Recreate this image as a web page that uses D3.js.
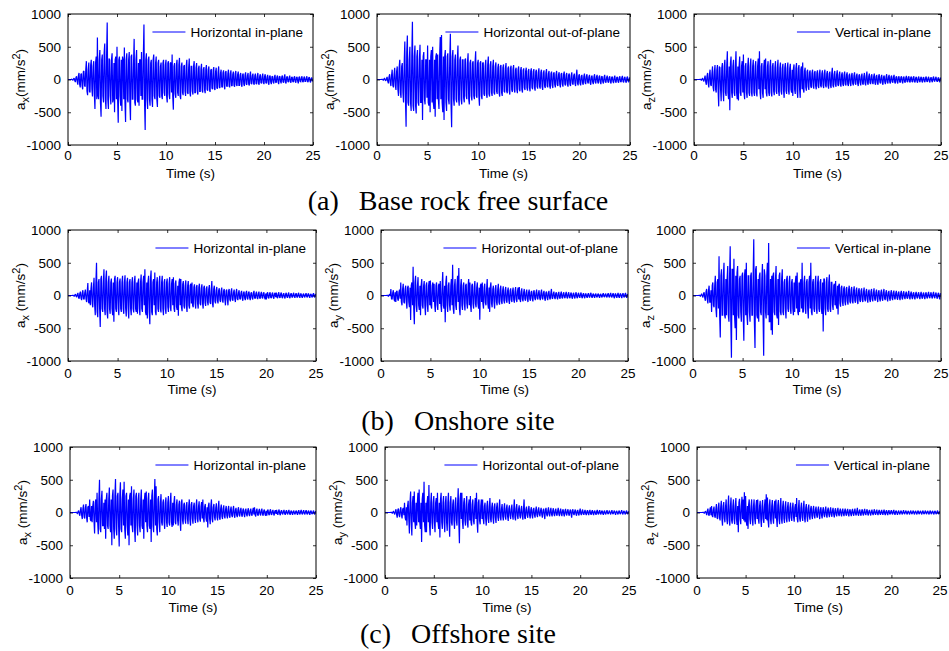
<!DOCTYPE html>
<html>
<head>
<meta charset="utf-8">
<script src="https://cdn.jsdelivr.net/npm/d3@7"></script>
<style>
html,body{margin:0;padding:0;background:#fff;}
svg{display:block;}
</style>
</head>
<body>
<svg id="chart" width="949" height="651"></svg>
<script>
// ---------------- data ----------------
const timeStep = 0.0625;          // s, sampling of the digitised records (16 per second)
const xTicks = [0, 5, 10, 15, 20, 25];
const yTicks = [-1000, -500, 0, 500, 1000];
const captionTags = ["(a)", "(b)", "(c)"];
const captionTexts = ["Base rock free surface", "Onshore site", "Offshore site"];
const legendLabels = ["Horizontal in-plane", "Horizontal out-of-plane", "Vertical in-plane"];
const componentSubs = ["x", "y", "z"];
const xLabel = "Time (s)";

// (a) base rock free surface, mm/s^2, one line per second
const baseX = [
0,0,0,0,0,0,5,-5,-10,10,20,-15,-40,30,50,-30,
-80,60,100,-70,-120,80,90,-100,-150,120,130,-90,-110,150,280,-180,
-240,150,260,-180,-200,220,300,-150,-260,200,280,-220,-450,250,350,-300,
640,-250,-300,300,450,-350,-570,300,380,-250,-350,400,550,-300,-450,350,
870,-300,-450,320,300,-250,-380,300,400,-350,-300,250,-500,300,350,-300,
500,-300,-660,300,350,-250,-400,300,-480,350,300,-300,490,-350,-650,300,
400,-300,-350,300,420,-350,-620,350,380,-300,-300,250,620,-350,-400,300,
450,-300,-350,250,-400,300,300,-250,420,-300,-300,350,840,-350,-770,300,
400,-300,-450,300,350,-300,-400,250,300,-300,-420,300,380,-250,-300,250,
350,-300,-420,250,300,-250,-280,200,260,-250,-300,250,300,-200,-250,220,
300,-250,-350,250,280,-220,-300,250,260,-200,380,-250,-460,200,250,-220,
-280,220,300,-200,-250,220,330,-250,-300,200,260,-200,-240,200,220,-180,
-250,200,300,-200,-220,180,320,-200,-260,200,200,-180,-230,200,280,-200,
-200,180,250,-180,-230,170,210,-180,-180,160,240,-170,-200,160,190,-160,
-210,160,220,-150,-170,150,200,-160,-190,140,160,-130,-150,140,190,-140,
-160,120,180,-130,-140,110,200,-120,-130,100,150,-110,-120,100,140,-100,
-150,110,130,-100,-110,90,150,-100,-120,90,140,-90,-100,80,120,-90,
-110,90,130,-80,-100,80,120,-90,-90,70,100,-80,-110,70,90,-70,
-100,70,110,-70,-80,60,100,-70,-90,60,120,-60,-70,60,90,-60,
-80,60,90,-60,-70,50,100,-60,-80,50,80,-50,-60,50,90,-50,
-70,50,80,-50,-60,40,70,-50,-80,50,60,-40,-70,40,50,-40,
-60,40,70,-40,-50,35,60,-40,-70,40,50,-30,-60,40,60,-35,
-50,35,80,-40,-60,35,50,-30,-40,30,60,-35,-50,30,40,-30,
-40,30,50,-30,-50,30,40,-25,-60,30,45,-30,-35,25,50,-30,
-40,25,45,-30,-30,20,50,-30,-40,25,35,-25,-45,20,30,-20,
-20];
const baseY = [
0,0,0,0,0,0,0,0,5,-5,-10,8,15,-10,-20,15,
40,-30,-60,40,80,-50,-100,60,150,-90,-120,80,180,-100,-160,120,
200,-150,-250,180,300,-200,-280,200,250,-200,-350,250,580,-300,-720,400,
670,-350,-400,300,500,-350,-480,350,880,-400,-480,350,520,-400,-520,350,
450,-350,-400,300,530,-350,-350,300,-620,350,420,-300,-380,300,300,-280,
520,-350,-400,300,-500,350,450,-350,500,-350,-450,300,-570,350,400,-300,
380,-300,-450,350,650,-300,680,-350,-500,350,-620,350,450,-350,-480,350,
400,-300,-380,300,700,-350,-730,350,450,-300,-400,300,380,-300,-350,300,
520,-300,-400,300,350,-300,-380,300,300,-280,-350,300,320,-250,-300,250,
400,-300,-380,250,300,-250,-320,250,280,-250,-300,250,430,-250,-280,250,
300,-250,-400,250,280,-250,-300,250,260,-220,-250,200,300,-220,-280,220,
350,-220,-260,220,280,-200,-250,200,300,-200,-230,200,260,-180,-220,180,
240,-200,-260,200,220,-200,-250,180,230,-180,-200,170,250,-180,-210,170,
200,-170,-230,170,210,-160,-190,160,220,-160,-200,150,180,-150,-210,150,
200,-150,-180,140,190,-150,-200,140,170,-130,-160,130,180,-130,-170,130,
160,-130,-180,130,170,-120,-150,120,160,-120,-170,120,150,-110,-140,110,
170,-110,-140,110,150,-110,-160,100,140,-100,-130,100,160,-100,-120,90,
130,-100,-140,90,120,-90,-130,90,110,-80,-120,80,130,-80,-100,80,
110,-80,-120,80,100,-70,-110,80,120,-70,-90,70,100,-70,-110,70,
90,-70,-100,60,110,-60,-80,60,90,-60,-100,60,150,-60,-90,60,
80,-60,-90,50,70,-50,-80,50,90,-50,-70,50,80,-40,-60,40,
70,-50,-80,40,60,-40,-70,40,80,-40,-60,40,70,-40,-60,40,
60,-40,-70,40,50,-35,-60,35,70,-35,-50,30,60,-30,-50,30,
50,-35,-60,30,45,-30,-55,30,60,-30,-50,30,40,-30,-50,30,
50,-30,-40,30,55,-30,-45,25,40,-25,-50,25,45,-25,-40,20,
30];
const baseZ = [
0,0,0,0,0,0,0,0,0,0,5,-5,-10,8,15,-10,
-30,20,60,-40,-80,50,100,-60,-120,80,150,-80,-100,90,200,-120,
-180,120,220,-150,-200,150,220,-150,-410,200,180,-150,-330,180,250,-180,
-330,200,300,-200,-250,200,430,-200,-300,200,-470,250,350,-200,-280,200,
300,-200,-250,200,430,-200,-300,200,-320,200,350,-200,-250,200,280,-200,
380,-200,-300,200,250,-200,-280,200,330,-200,-250,200,320,-200,-260,200,
300,-200,-250,200,280,-200,-260,200,320,-150,430,-200,-300,200,250,-200,
-280,200,300,-150,320,-200,-260,200,280,-200,-250,200,300,-200,-260,200,
250,-180,-240,180,280,-180,-220,180,300,-180,-250,180,260,-180,-230,170,
240,-170,-280,180,250,-170,-220,170,260,-170,-230,170,240,-150,-200,150,
-250,170,230,-160,-220,170,250,-170,-280,170,220,-150,-280,150,200,-150,
260,-150,-200,130,180,-120,-170,120,150,-110,-160,110,140,-100,-130,100,
150,-100,-140,100,130,-100,-150,100,140,-100,-130,90,150,-90,-120,90,
140,-90,-130,90,150,-90,-120,90,130,-90,-140,90,120,-90,-130,90,
180,-90,-120,80,130,-80,-110,80,140,-80,-100,70,120,-70,-110,70,
110,-70,-100,70,120,-70,-90,70,110,-70,-100,60,90,-60,-100,60,
100,-60,-90,60,110,-60,-80,60,90,-60,-100,60,80,-50,-90,50,
90,-60,-80,50,100,-60,-90,50,120,-50,-80,50,90,-50,-70,50,
80,-50,-70,50,90,-50,-80,50,70,-50,-80,50,80,-40,-60,40,
70,-50,-80,40,60,-40,-70,40,80,-40,-60,40,70,-40,-60,40,
60,-35,-50,35,70,-40,-60,35,50,-35,-60,35,50,-30,-50,30,
50,-30,-60,30,45,-30,-50,30,55,-30,-40,30,50,-30,-45,30,
45,-30,-40,30,50,-30,-45,25,40,-25,-50,25,45,-25,-40,25,
40,-25,-45,25,35,-25,-40,25,45,-25,-35,20,40,-25,-45,20,
35,-20,-40,25,45,-20,-30,20,40,-20,-35,20,30,-20,-40,20,
20];

// (b) onshore site
const onX = [
0,0,0,0,0,0,0,0,5,-5,-10,8,20,-10,-25,15,
40,-30,-50,30,60,-40,-70,40,80,-50,-60,40,90,-50,-100,60,
190,-100,-120,80,-150,100,200,-120,-180,120,270,-150,-300,200,500,-250,
-330,200,250,-200,-480,250,300,-200,-250,200,400,-200,-300,250,380,-250,
-350,200,300,-200,-280,200,260,-200,-300,200,-400,250,300,-200,-250,200,
280,-200,-300,200,260,-200,-250,200,300,-200,-280,200,310,-200,-320,200,
270,-200,-350,200,250,-200,-300,200,280,-200,-260,200,300,-200,-250,200,
-280,200,260,-200,-300,200,320,-200,-250,200,300,-150,400,-250,-300,200,
-350,200,300,-250,-440,250,380,-250,-300,200,250,-150,350,-250,-300,200,
280,-200,-250,200,300,-200,-260,200,300,-200,-300,200,250,-200,-280,200,
260,-180,-250,180,280,-180,-240,180,250,-150,280,-200,-250,180,230,-170,
-220,150,-310,200,260,-150,250,-180,-240,170,220,-160,-200,150,230,-160,
-250,150,220,-150,-200,150,180,-120,200,-150,-180,130,170,-120,-200,130,
160,-120,-200,130,180,-120,-150,110,170,-120,-200,120,150,-110,-160,100,
140,-100,-150,100,160,-100,-130,90,220,-120,-180,100,150,-90,-120,80,
130,-80,-120,80,110,-70,-100,70,120,-70,-110,70,100,-60,-150,70,
90,-60,-150,70,100,-60,-90,60,110,-60,-80,50,90,-50,-100,50,
100,-50,-70,45,80,-45,-60,40,70,-40,-80,40,60,-40,-70,40,
70,-40,-60,40,60,-35,-70,35,50,-35,-60,35,70,-35,-50,30,
60,-35,-55,30,60,-35,-50,30,55,-30,-45,30,50,-30,-60,30,
-60,30,50,-30,-45,30,50,-30,-40,25,45,-25,-50,25,40,-25,
45,-25,-40,25,50,-25,-35,25,45,-25,-40,20,35,-20,-45,20,
40,-20,-35,20,45,-25,-40,20,35,-20,-30,20,40,-20,-35,20,
35,-20,-30,20,40,-20,-35,20,30,-20,-35,15,30,-15,-30,15,
35,-15,-30,20,30,-15,-35,15,25,-15,-30,15,35,-15,-30,15,
20];
const onY = [
0,0,0,0,0,0,0,0,0,0,5,-5,-10,8,15,-10,
100,-50,-60,40,80,-50,-90,50,-100,60,70,-50,-80,50,90,-50,
200,-100,-150,100,180,-100,-120,100,150,-100,-200,120,150,-100,-180,120,
-375,150,200,-150,440,-200,-440,200,300,-150,-250,150,280,-150,-220,150,
-300,150,250,-150,-200,150,220,-150,-300,150,200,-150,-250,150,220,-150,
230,-150,-200,150,200,-100,180,-150,-250,150,200,-150,-220,150,180,-130,
220,-150,-250,150,360,-150,-200,150,-410,200,300,-150,-250,150,200,-150,
-230,150,250,-150,470,-200,-280,150,250,-150,-220,150,300,-100,420,-200,
-300,150,250,-150,-220,150,200,-130,-230,150,180,-120,-200,150,250,-150,
200,-150,-250,150,180,-130,-200,130,220,-130,-180,120,200,-120,-200,120,
-370,150,180,-100,200,-120,-200,120,180,-110,-150,100,250,-120,-200,120,
-250,130,200,-120,-180,100,150,-100,-200,100,160,-100,-150,90,180,-100,
-140,90,150,-90,-130,80,140,-80,-120,80,130,-80,-110,70,120,-70,
-130,70,110,-70,-100,70,120,-70,-110,60,130,-60,-100,60,120,-60,
130,-60,-100,60,110,-60,-90,50,100,-50,-80,50,90,-50,-100,50,
90,-50,-80,50,70,-50,-90,50,80,-40,-70,40,90,-40,-60,40,
80,-40,-70,40,90,-40,-60,40,70,-40,-80,40,60,-35,-70,35,
70,-35,-60,35,100,-40,-50,30,60,-30,-55,30,50,-30,-60,30,
55,-30,-50,30,60,-30,-45,25,50,-25,-40,25,55,-25,-45,25,
50,-25,-40,25,45,-25,-50,25,40,-20,-45,20,50,-20,-40,20,
40,-20,-35,20,45,-20,-40,20,35,-20,-40,20,30,-20,-35,20,
35,-20,-30,20,40,-20,-35,15,30,-15,-35,15,30,-15,-30,15,
30,-15,-35,15,25,-15,-30,15,35,-15,-25,15,30,-15,-30,15,
35,-15,-30,15,40,-15,-30,15,35,-20,-40,20,30,-15,-35,15,
40,-20,-35,20,30,-15,-40,20,35,-15,-30,15,40,-15,-35,15,
20];
const onZ = [
0,0,0,0,0,0,0,0,0,0,5,-5,-10,10,20,-10,
-30,30,50,-40,-80,60,100,-60,-120,80,150,-100,-100,80,-250,150,
200,-150,-180,150,300,-200,-330,200,250,-200,600,-300,-640,300,400,-300,
-300,300,500,-300,-350,250,-300,250,450,-300,-400,300,750,-400,-950,400,
400,-300,560,-300,-500,300,-680,350,450,-300,-350,250,300,-250,-400,300,
350,-300,-690,300,400,-300,500,-300,-450,300,300,-250,-400,300,350,-300,
-300,300,860,-400,-800,400,450,-300,-350,250,-400,300,350,-250,-300,250,
480,-300,-920,400,300,-250,-350,300,500,-300,800,-400,-400,250,-530,300,
-600,300,350,-250,-300,250,450,-300,-350,250,-450,300,350,-250,-300,250,
400,-250,-300,200,250,-200,-350,250,300,-200,-250,200,300,-200,-280,200,
250,-200,-300,200,-250,200,300,-200,350,-250,-300,200,-250,200,250,-200,
500,-250,-250,200,300,-200,-280,200,250,-200,-350,200,300,-200,500,-250,
-300,200,250,-200,-250,200,300,-200,-280,200,300,-200,-250,200,250,-200,
-280,200,-550,250,250,-200,-300,200,280,-200,-250,200,320,-200,-250,200,
200,-150,-220,150,180,-150,220,-150,-200,150,-290,150,180,-120,-170,120,
150,-100,-160,100,140,-100,-150,100,130,-90,-140,90,150,-90,-120,90,
130,-90,-120,80,140,-80,-110,80,120,-80,-130,80,110,-70,-100,70,
110,-70,-100,60,120,-60,-90,60,100,-60,-110,60,90,-60,-100,60,
100,-60,-90,50,110,-50,-80,50,90,-50,-100,50,80,-50,-90,50,
90,-50,-80,50,100,-45,-70,45,80,-45,-90,45,70,-40,-80,40,
80,-40,-70,40,75,-40,-60,35,70,-35,-65,35,60,-35,-70,35,
70,-35,-60,35,65,-30,-55,30,60,-30,-50,30,70,-30,-60,30,
60,-30,-55,30,50,-30,-60,30,55,-25,-45,25,50,-25,-55,25,
55,-25,-50,25,45,-25,-55,25,50,-25,-45,25,55,-20,-40,20,
50,-20,-45,25,55,-20,-40,20,45,-20,-50,20,40,-25,-60,25,
30];

// (c) offshore site
const offX = [
0,0,0,0,0,0,0,0,0,0,5,-5,-15,10,30,-20,
-50,40,80,-50,-100,60,120,-70,-90,70,130,-80,-150,80,100,-70,
200,-100,-130,100,-150,100,180,-120,-320,150,200,-150,300,-150,-330,200,
500,-250,-300,200,330,-200,-200,150,-250,200,-400,200,300,-200,-250,200,
380,-200,-300,200,-500,250,350,-250,-400,250,510,-250,-350,250,300,-200,
-520,250,460,-250,-300,200,350,-200,470,-250,-400,250,300,-200,-350,200,
-500,250,300,-200,400,-200,-300,200,350,-250,-450,250,300,-200,-350,200,
300,-200,-300,200,350,-200,-250,200,-400,200,300,-150,320,-200,-300,200,
300,-200,-250,200,-450,250,350,-200,-300,200,510,-200,400,-250,-350,200,
250,-150,-300,150,280,-150,-200,150,200,-150,-250,150,230,-150,-220,150,
250,-150,-200,150,300,-150,-220,150,-200,150,250,-150,-180,120,200,-120,
-200,120,180,-120,-280,150,200,-120,-180,120,150,-100,-170,100,160,-100,
-180,100,200,-110,-200,120,160,-100,-170,100,150,-90,-160,100,200,-100,
-150,90,170,-100,-140,90,160,-90,200,-100,-150,90,130,-80,-140,80,
-230,100,150,-90,-180,100,200,-100,-150,80,130,-70,-120,70,140,-70,
-120,70,180,-80,-110,60,120,-60,-100,60,110,-60,-90,50,100,-50,
-90,50,100,-50,-80,45,90,-45,-70,40,100,-40,-80,40,70,-40,
-70,40,80,-40,-60,35,70,-35,-65,35,60,-30,-70,30,60,-30,
-60,30,65,-30,-55,30,60,-30,-50,30,70,-30,80,-35,-60,30,
60,-30,-50,25,55,-25,-45,25,60,-25,-50,25,45,-25,-50,25,
-50,25,45,-25,-40,20,50,-25,-35,20,40,-20,-45,20,35,-20,
40,-20,-35,20,45,-20,-40,20,35,-15,-30,15,40,-15,-35,15,
35,-15,-30,15,40,-15,-35,15,30,-15,-35,15,30,-15,-30,15,
30,-15,-35,15,35,-15,-30,15,40,-15,-30,15,35,-15,-30,15,
35,-15,-30,15,30,-15,-35,15,30,-15,-25,10,30,-15,-30,10,
20];
const offY = [
0,0,0,0,0,0,0,0,0,0,5,-5,-10,8,15,-10,
-30,20,50,-30,-80,40,60,-40,-70,40,80,-40,-90,50,70,-40,
150,-80,-120,80,-200,100,180,-100,-320,150,320,-150,-350,150,250,-150,
320,-150,-250,150,-200,150,300,-150,350,-150,-250,150,-450,200,300,-150,
470,-200,-300,150,-300,150,250,-150,420,-200,-350,150,300,-150,-250,150,
250,-150,-300,150,220,-150,300,-150,-250,150,-380,200,300,-150,-250,150,
250,-150,-300,150,250,-150,-280,150,300,-150,-370,150,250,-150,-200,120,
200,-120,-250,150,230,-120,-200,120,370,-150,-470,200,300,-100,300,-150,
-250,150,220,-120,-200,120,250,-150,-230,120,200,-120,250,-150,-200,120,
200,-120,-180,100,220,-100,300,-150,-310,150,200,-120,-180,100,200,-100,
200,-100,-180,100,150,-90,-200,100,180,-90,-160,90,220,-100,-150,80,
150,-80,-170,80,140,-80,-160,80,150,-70,-130,70,200,-80,-120,60,
130,-60,-120,60,140,-60,-110,60,120,-60,-130,60,110,-50,-100,50,
120,-50,-110,50,200,-80,-120,60,130,-50,-100,50,110,-50,-90,45,
100,-50,-110,50,200,-80,-100,50,90,-40,-80,40,100,-40,-90,40,
80,-40,-90,40,70,-35,-80,35,90,-35,-70,35,80,-30,-60,30,
70,-30,-80,30,60,-30,-100,40,70,-30,-60,30,80,-30,-60,30,
70,-30,-60,30,65,-25,-55,25,60,-25,-50,25,70,-25,-55,25,
60,-25,-55,25,50,-25,-60,25,55,-20,-45,20,50,-20,-50,20,
45,-20,-80,30,50,-20,-40,20,45,-20,-50,20,40,-20,-45,20,
60,-20,-40,20,45,-20,-35,15,40,-15,-40,15,35,-15,-40,15,
40,-15,-35,15,35,-15,-40,15,30,-15,-35,15,40,-15,-30,15,
35,-15,-30,15,30,-15,-35,15,30,-15,-30,10,35,-10,-25,10,
30,-10,-30,10,35,-10,-25,10,30,-10,-35,10,25,-10,-30,10,
30,-10,-25,10,35,-10,-30,10,25,-10,-30,10,30,-10,-25,10,
15];
const offZ = [
0,0,0,0,0,0,0,0,0,0,5,-5,-10,8,20,-10,
-40,30,60,-30,-50,30,80,-40,100,-50,-70,40,90,-50,-80,50,
130,-80,-100,70,150,-80,-120,80,180,-90,-200,100,160,-90,-150,90,
200,-100,-180,100,260,-120,-200,100,230,-120,-170,100,200,-100,-180,100,
220,-100,-190,100,-300,150,210,-100,-180,100,240,-100,200,-120,310,-150,
250,-120,-200,100,-250,120,200,-100,-180,100,200,-100,-200,100,200,-100,
-180,100,190,-100,200,-100,-170,100,180,-100,-220,100,190,-100,-160,90,
200,-100,280,-120,230,-120,-230,110,200,-100,-180,100,190,-90,-170,90,
180,-90,200,-100,-220,110,190,-100,-180,90,220,-100,-170,90,180,-90,
-160,90,170,-90,-150,80,160,-80,-140,80,150,-80,-130,70,150,-70,
-140,70,130,-70,220,-100,-150,70,190,-90,-140,70,150,-70,-130,70,
180,-80,-150,70,130,-60,-140,60,120,-60,-110,55,100,-50,-100,50,
100,-50,-90,45,90,-45,-80,40,90,-40,-100,40,80,-40,-90,40,
80,-35,-70,35,90,-35,-80,35,75,-30,-70,30,80,-30,-65,30,
70,-30,-75,30,65,-30,-60,30,70,-25,-55,25,60,-25,-60,25,
60,-25,-55,25,60,-25,-50,25,55,-25,-60,25,50,-20,-55,20,
55,-20,-50,20,60,-20,-45,20,70,-25,-50,20,45,-20,-50,20,
50,-20,-45,20,55,-20,-40,20,50,-20,-45,20,40,-15,-45,15,
45,-15,-40,15,50,-15,-35,15,45,-15,-40,15,40,-15,-35,15,
40,-15,-35,15,45,-15,-40,15,35,-15,-40,15,35,-15,-30,15,
35,-15,-30,15,40,-15,-35,15,30,-10,-35,10,30,-10,-30,10,
30,-10,-30,10,35,-10,-25,10,30,-10,-30,10,25,-10,-30,10,
30,-10,-25,10,30,-10,-30,10,25,-10,-30,10,30,-10,-25,10,
25,-10,-30,10,30,-10,-25,10,30,-10,-25,10,25,-10,-30,10,
30,-10,-25,10,25,-10,-30,10,25,-10,-25,10,30,-10,-25,10,
15];

const seriesGrid = [[baseX, baseY, baseZ], [onX, onY, onZ], [offX, offY, offZ]];

// ---------------- layout ----------------
const rowsLayout = [
  {top: 14, bottom: 145, cols: [[68, 313], [377, 630], [694, 941]], tickBase: 15, labBase: 33, capY: 210, ySpace: ""},
  {top: 230, bottom: 361, cols: [[68, 316], [381, 628], [693, 941]], tickBase: 17, labBase: 33, capY: 430, ySpace: " "},
  {top: 447, bottom: 578, cols: [[70, 316], [385, 629], [697, 940]], tickBase: 17, labBase: 34, capY: 643, ySpace: " "}
];
const sansFont = "'Liberation Sans', Arial, Helvetica, sans-serif";
const serifFont = "'Liberation Serif', 'Times New Roman', Times, serif";
const fs = 13.5;

const svg = d3.select("#chart");
svg.append("rect").attr("width", 949).attr("height", 651).attr("fill", "#fff");

rowsLayout.forEach((row, r) => {
  row.cols.forEach((c, k) => {
    const [left, right] = c;
    const data = seriesGrid[r][k];
    const x = d3.scaleLinear().domain([0, 25]).range([left, right]);
    const y = d3.scaleLinear().domain([-1000, 1000]).range([row.bottom, row.top]);
    const g = svg.append("g");

    // signal
    const clipId = `clip-${r}-${k}`;
    g.append("clipPath").attr("id", clipId).append("rect")
      .attr("x", left).attr("y", row.top).attr("width", right - left).attr("height", row.bottom - row.top);
    const line = d3.line().x((d, i) => x(i * timeStep)).y(d => y(d));
    g.append("path").datum(data)
      .attr("clip-path", `url(#${clipId})`)
      .attr("fill", "none").attr("stroke", "#0000ff").attr("stroke-width", 1.2)
      .attr("stroke-linejoin", "miter").attr("stroke-miterlimit", 2).attr("d", line);

    // axes (ticks inside, mirrored)
    const axL = g.append("g").attr("transform", `translate(${left},0)`)
      .call(d3.axisLeft(y).tickValues(yTicks).tickSizeInner(-3).tickSizeOuter(0).tickPadding(7)
        .tickFormat(d => String(d)));
    const axR = g.append("g").attr("transform", `translate(${right},0)`)
      .call(d3.axisRight(y).tickValues(yTicks).tickSizeInner(-3).tickSizeOuter(0).tickFormat(""));
    const axB = g.append("g").attr("transform", `translate(0,${row.bottom})`)
      .call(d3.axisBottom(x).tickValues(xTicks).tickSizeInner(-3).tickSizeOuter(0).tickFormat(""));
    const axT = g.append("g").attr("transform", `translate(0,${row.top})`)
      .call(d3.axisTop(x).tickValues(xTicks).tickSizeInner(-3).tickSizeOuter(0).tickFormat(""));
    [axL, axR, axB, axT].forEach(a => {
      a.select(".domain").remove();
      a.selectAll("line").attr("stroke", "#000").attr("stroke-width", 0.8);
    });
    axL.selectAll("text").attr("font-family", sansFont).attr("font-size", fs).attr("fill", "#000");

    // x tick labels
    g.selectAll("text.xt").data(xTicks).join("text")
      .attr("class", "xt")
      .attr("x", d => x(d)).attr("y", row.bottom + row.tickBase)
      .attr("text-anchor", "middle").attr("font-family", sansFont).attr("font-size", fs)
      .text(d => String(d));

    // box
    g.append("rect").attr("x", left).attr("y", row.top)
      .attr("width", right - left).attr("height", row.bottom - row.top)
      .attr("fill", "none").attr("stroke", "#000").attr("stroke-width", 1);

    // x label
    g.append("text").attr("x", (left + right) / 2).attr("y", row.bottom + row.labBase)
      .attr("text-anchor", "middle").attr("font-family", sansFont).attr("font-size", fs)
      .text(xLabel);

    // y label
    const yl = g.append("text")
      .attr("transform", `translate(${left - 43},${(row.top + row.bottom) / 2}) rotate(-90)`)
      .attr("text-anchor", "middle").attr("font-family", sansFont).attr("font-size", fs);
    yl.append("tspan").text("a");
    yl.append("tspan").attr("font-size", 11).attr("dy", 4).text(componentSubs[k]);
    yl.append("tspan").attr("dy", -4).text(row.ySpace + "(mm/s");
    yl.append("tspan").attr("font-size", 11).attr("dy", -5).text("2");
    yl.append("tspan").attr("dy", 5).text(")");

    // legend
    const lt = g.append("text").attr("x", right - 10).attr("y", row.top + 18)
      .attr("dy", "0.35em").attr("text-anchor", "end")
      .attr("font-family", sansFont).attr("font-size", fs).text(legendLabels[k]);
    const tw = lt.node().getComputedTextLength();
    const lineEnd = right - 10 - tw - 5;
    g.append("line").attr("x1", lineEnd - 33).attr("x2", lineEnd)
      .attr("y1", row.top + 18).attr("y2", row.top + 18)
      .attr("stroke", "#0000ff").attr("stroke-width", 1);
  });

  // row caption: tag + gap + text, centred as a whole
  const cg = svg.append("g");
  const tag = cg.append("text").attr("y", row.capY).attr("font-family", serifFont).attr("font-size", 28)
    .text(captionTags[r]);
  const main = cg.append("text").attr("y", row.capY).attr("font-family", serifFont).attr("font-size", 28)
    .text(captionTexts[r]);
  const tw1 = tag.node().getComputedTextLength();
  const tw2 = main.node().getComputedTextLength();
  const gap = 20;
  const start = 458 - (tw1 + gap + tw2) / 2;
  tag.attr("x", start);
  main.attr("x", start + tw1 + gap);
});
</script>
</body>
</html>
